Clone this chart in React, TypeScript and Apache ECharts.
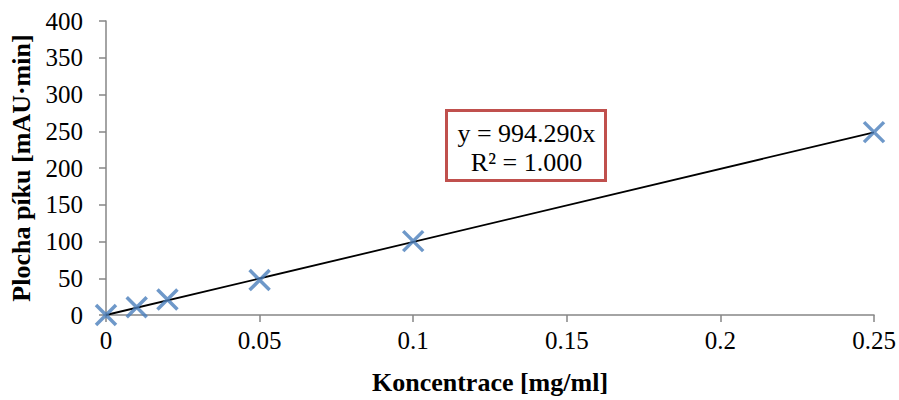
import React, { useEffect, useRef } from "react";
import * as echarts from "echarts";

const concentrations = [0, 0.01, 0.02, 0.05, 0.1, 0.25];
const peakAreas = [0, 10.5, 21, 47.5, 100.5, 248.8];
const trendX = [0, 0.25];
const trendY = [0, 248.57];
const equationLines = ["y = 994.290x", "R² = 1.000"];
const xTitle = "Koncentrace [mg/ml]";
const yTitle = "Plocha píku [mAU·min]";

const FONT = "'Liberation Serif', 'Times New Roman', serif";

export default function App() {
  const ref = useRef<HTMLDivElement>(null);
  useEffect(() => {
    if (!ref.current) return;
    const chart = echarts.init(ref.current, undefined, { renderer: "svg" });
    chart.setOption({
      animation: false,
      backgroundColor: "#ffffff",
      grid: { left: 106, right: 25, top: 21, bottom: 84 },
      xAxis: {
        type: "value",
        min: 0,
        max: 0.25,
        interval: 0.05,
        name: xTitle,
        nameLocation: "middle",
        nameGap: 54,
        nameTextStyle: { fontFamily: FONT, fontSize: 26, fontWeight: "bold", color: "#000" },
        axisLine: { show: true, onZero: false, lineStyle: { color: "#868686", width: 1.5 } },
        axisTick: { show: true, length: 7, lineStyle: { color: "#868686", width: 1.5 } },
        axisLabel: { fontFamily: FONT, fontSize: 25, color: "#000", margin: 13 },
        splitLine: { show: false },
      },
      yAxis: {
        type: "value",
        min: 0,
        max: 400,
        interval: 50,
        name: yTitle,
        nameLocation: "middle",
        nameGap: 70,
        nameTextStyle: { fontFamily: FONT, fontSize: 26, fontWeight: "bold", color: "#000" },
        axisLine: { show: true, lineStyle: { color: "#868686", width: 1.5 } },
        axisTick: { show: true, length: 7, lineStyle: { color: "#868686", width: 1.5 } },
        axisLabel: { fontFamily: FONT, fontSize: 25, color: "#000", margin: 23 },
        splitLine: { show: false },
      },
      series: [
        {
          type: "line",
          data: trendX.map((x, i) => [x, trendY[i]]),
          symbol: "none",
          lineStyle: { color: "#000", width: 1.8 },
          z: 2,
        },
        {
          type: "scatter",
          data: concentrations.map((x, i) => [x, peakAreas[i]]),
          symbol: "path://M0,0L10,10M10,0L0,10",
          symbolSize: 20,
          itemStyle: { color: "rgba(0,0,0,0)", borderColor: "#4A7EBB", borderWidth: 3.5 },
          z: 3,
        },
      ],
      graphic: [
        {
          type: "group",
          left: 445,
          top: 109,
          children: [
            {
              type: "rect",
              shape: { x: 0, y: 0, width: 159, height: 70 },
              style: { fill: "#fff", stroke: "#C0504D", lineWidth: 3 },
            },
            {
              type: "text",
              x: 80,
              y: 23,
              style: {
                text: equationLines[0],
                fontFamily: FONT,
                fontSize: 26,
                fill: "#000",
                align: "center",
                verticalAlign: "middle",
              },
            },
            {
              type: "text",
              x: 80,
              y: 52,
              style: {
                text: equationLines[1],
                fontFamily: FONT,
                fontSize: 26,
                fill: "#000",
                align: "center",
                verticalAlign: "middle",
              },
            },
          ],
        },
      ],
    });
    return () => chart.dispose();
  }, []);
  return (
    <div
      ref={ref}
      style={{ position: "fixed", left: 0, top: 0, width: 899, height: 400 }}
    />
  );
}
